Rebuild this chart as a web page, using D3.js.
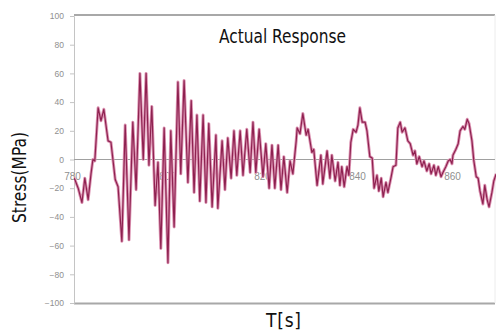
<!DOCTYPE html>
<html><head><meta charset="utf-8">
<script src="https://cdn.jsdelivr.net/npm/d3@7"></script>
<style>html,body{margin:0;padding:0;background:#fff;overflow:hidden}</style>
</head><body>
<svg id="c" width="496" height="331"></svg>
<script>
const title = "Actual Response";
const yLabel = "Stress(MPa)";
const xLabel = "T[s]";
const yTicks = [-100,-80,-60,-40,-20,0,20,40,60,80,100];
const xTicks = [780,800,820,840,860];
const times = [780.0,780.6,781.3,782.1,782.7,783.4,784.0,784.4,784.8,785.5,786.1,786.7,787.6,788.2,789.1,789.7,790.5,791.2,792.0,792.8,793.5,794.3,795.0,795.6,796.2,796.8,797.5,798.1,798.7,799.4,800.2,800.8,801.5,802.3,802.9,803.6,804.4,805.1,805.7,806.3,806.9,807.6,808.2,808.8,809.5,810.3,810.7,811.6,812.2,812.8,813.5,814.1,814.7,815.4,816.0,816.8,817.5,818.1,818.7,819.4,820.2,820.8,821.5,822.1,822.7,823.4,824.0,824.6,825.3,825.9,826.5,827.2,827.4,828.0,828.6,829.3,829.7,830.5,830.9,831.6,832.4,832.8,833.7,834.3,834.7,835.4,836.0,836.4,836.8,837.3,837.9,838.3,838.7,839.2,839.8,840.2,840.6,841.1,841.7,842.1,842.7,843.2,843.6,844.2,844.6,845.1,845.5,846.1,846.5,847.2,847.6,848.2,848.6,849.1,849.5,850.1,850.7,851.2,851.8,852.2,852.6,853.1,853.7,854.1,854.7,855.2,855.6,856.2,856.6,857.1,857.7,858.1,858.7,859.2,859.6,860.0,860.2,860.8,861.3,861.7,862.3,862.7,863.2,863.6,864.2,864.6,865.1,865.5,865.9,866.5,866.9,867.4,867.8,868.4,868.8,869.3];
const stress = [-11,-14,-20,-30,-13,-28,-10,0,-1,36,27,35,13,12,-14,-19,-57,24,-56,26,-21,60,0,60,-4,37,-32,-2,-62,22,-72,20,-47,54,-10,55,-16,41,-23,31,-29,31,-30,25,-33,17,-34,13,-21,15,-13,20,-11,20,-11,21,-9,26,-9,21,-12,11,-20,10,-20,10,-21,2,-23,-1,-10,13,22,18,32,17,21,5,7,-18,3,-17,6,-13,3,-15,-2,-18,-5,-19,-5,-11,12,21,19,24,36,26,26,20,2,1,-20,-11,-22,-13,-26,-16,-23,-12,-5,-4,22,26,19,22,13,11,3,6,-3,2,-5,-1,-8,-3,-10,-4,-11,-5,-12,-9,-5,-1,0,-3,3,7,11,20,23,21,28,25,13,-1,-12,-13,-22,-31,-18,-28,-33,-23,-15,-10];

const svg = d3.select("#c");
const x = d3.scaleLinear().domain([780, 869]).range([72, 494.75]);
const y = d3.scaleLinear().domain([-100, 100]).range([303, 16]);
const L = 74, R = 495;
const labelFont = "Liberation Sans Narrow, DejaVu Sans Condensed, sans-serif";

// frame
svg.append("line").attr("x1",L).attr("x2",R).attr("y1",15).attr("y2",15).attr("stroke","#a8a8a8").attr("stroke-width",2);
svg.append("line").attr("x1",L).attr("x2",R).attr("y1",303.5).attr("y2",303.5).attr("stroke","#a8a8a8").attr("stroke-width",2);
svg.append("line").attr("x1",R).attr("x2",R).attr("y1",15).attr("y2",303).attr("stroke","#ececec").attr("stroke-width",1);

// y axis
const ya = d3.axisLeft(y).tickValues(yTicks).tickSize(4).tickPadding(6);
const yg = svg.append("g").attr("transform",`translate(${L},0)`).call(ya);
yg.select(".domain").attr("stroke","#c4c4c4");
yg.selectAll(".tick line").attr("stroke","#c4c4c4");
yg.selectAll("text").attr("fill","#8f8f8f").attr("font-family","Liberation Sans, Arial, sans-serif").attr("font-size",8.5);

// zero line
svg.append("line").attr("x1",L).attr("x2",R).attr("y1",y(0)).attr("y2",y(0)).attr("stroke","#a0a0a0").attr("stroke-width",1);

// x axis tick labels along zero line
const xa = d3.axisBottom(x).tickValues(xTicks).tickSize(0).tickPadding(13);
const xg = svg.append("g").attr("transform",`translate(0,${y(0)})`).call(xa);
xg.select(".domain").remove();
xg.selectAll("text").attr("fill","#8f8f8f").attr("font-family","Liberation Sans, Arial, sans-serif").attr("font-size",10);

// clip
svg.append("clipPath").attr("id","clip").append("rect").attr("x",L).attr("y",15).attr("width",R-L+1).attr("height",288);

const data = times.map((t,i)=>({t, v: stress[i]}));
const line = d3.line().x(d=>x(d.t)).y(d=>y(d.v));
const g = svg.append("g").attr("clip-path","url(#clip)");
g.append("path").datum(data).attr("d",line).attr("fill","none").attr("stroke","#dc93b2").attr("stroke-width",3).attr("stroke-linejoin","round");
g.append("path").datum(data).attr("d",line).attr("fill","none").attr("stroke","#8e2150").attr("stroke-width",1.2).attr("stroke-linejoin","round");

// title
svg.append("text").attr("x",219).attr("y",43)
  .attr("font-family",labelFont).attr("font-size",19).attr("fill","#111")
  .attr("textLength",127).attr("lengthAdjust","spacingAndGlyphs").text(title);

// y label
svg.append("text").attr("transform","translate(26,223) rotate(-90)")
  .attr("font-family",labelFont).attr("font-size",19).attr("fill","#111")
  .attr("textLength",91).attr("lengthAdjust","spacingAndGlyphs").text(yLabel);

// x label
svg.append("text").attr("x",266).attr("y",327)
  .attr("font-family",labelFont).attr("font-size",19).attr("fill","#111")
  .attr("textLength",35).attr("lengthAdjust","spacing").text(xLabel);
</script>
</body></html>
